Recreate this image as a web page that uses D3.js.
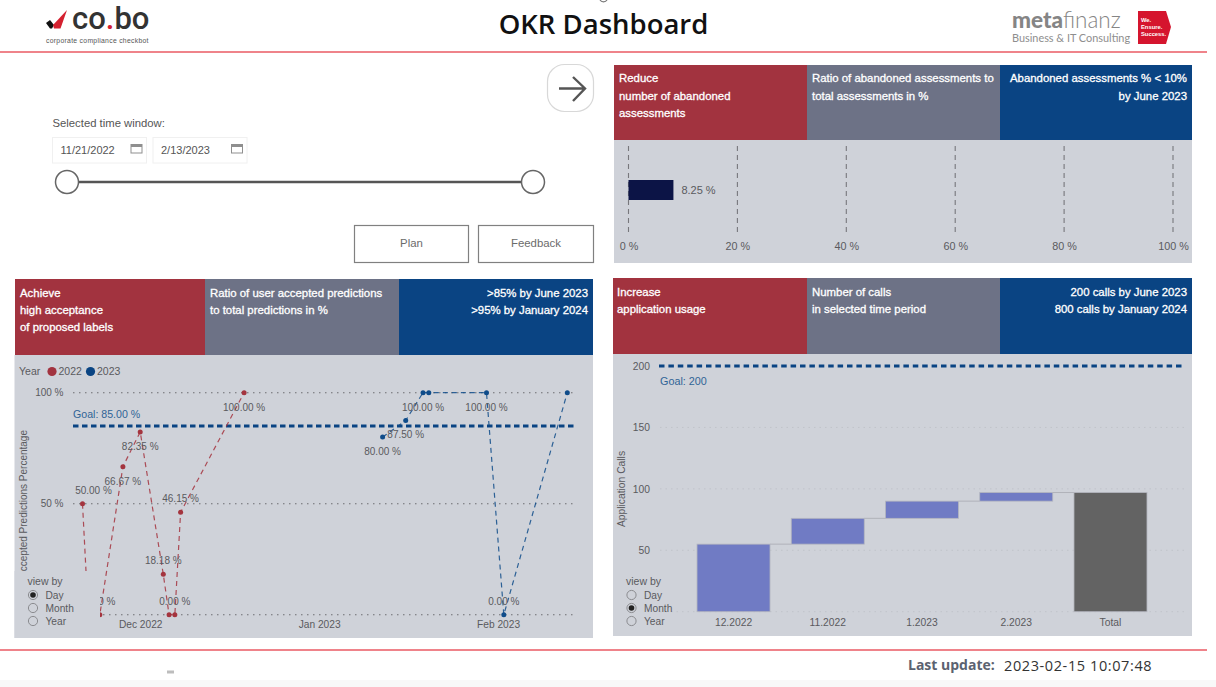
<!DOCTYPE html>
<html>
<head>
<meta charset="utf-8">
<title>OKR Dashboard</title>
<script src="https://cdn.jsdelivr.net/npm/d3@7/dist/d3.min.js"></script>
<style>
    html, body { margin: 0; padding: 0; background: #fff; overflow: hidden; }
    svg { display: block; font-family: "Liberation Sans", Arial, sans-serif; }
    .tick text { font-family: "Liberation Sans", Arial, sans-serif; }
</style>
</head>
<body>
<div id="chart"></div>
<script>

// Acceptance ratio per day, one array pair per legend year
var dates2022 = ['2022-11-21', '2022-11-22', '2022-11-24', '2022-11-28', '2022-12-01', '2022-12-05', '2022-12-06', '2022-12-07', '2022-12-08', '2022-12-19'];
var values2022 = [50, 0, 0, 66.67, 82.35, 18.18, 0, 0, 46.15, 100];
var dates2023 = ['2023-01-12', '2023-01-16', '2023-01-19', '2023-01-20', '2023-01-30', '2023-02-02', '2023-02-13'];
var values2023 = [80, 87.5, 100, 100, 100, 0, 100];

// Which points carry a value label, and on which side
var labelSide2022 = ['above', null, 'above', 'below', 'below', 'above', null, 'above', 'above', 'below'];
var labelSide2023 = ['below', 'below', 'below', null, 'below', 'above', null];

var acceptanceGoal = 85;
var acceptanceTicks = [0, 50, 100];
var monthTicks = ['2022-12-01', '2023-01-01', '2023-02-01'];

// Application calls per month
var callMonths = ['12.2022', '11.2022', '1.2023', '2.2023'];
var callValues = [55, 21, 14, 7];
var callsTotalLabel = 'Total';
var callsGoal = 200;
var callsTicks = [50, 100, 150, 200];

// Abandoned assessments
var abandonedValue = 8.25;
var abandonedTicks = [0, 20, 40, 60, 80, 100];

var viewOptions = ['Day', 'Month', 'Year'];

var RED = '#a2333f',
    GREY = '#6d7286',
    BLUE = '#0a4483',
    PANEL = '#cfd2d9',
    TEXT = '#5a5a5e',
    LINE_RED = '#ea5a63';

var parseDay = d3.utcParse( '%Y-%m-%d' );

var svg = d3.select( '#chart' ).append( 'svg' )
    .attr( 'width', 1216 )
    .attr( 'height', 687 );

function label( parent, x, y, str, size, color, anchor ) {
    return parent.append( 'text' )
        .attr( 'x', x )
        .attr( 'y', y )
        .attr( 'dy', '.35em' )
        .attr( 'text-anchor', anchor || 'start' )
        .style( 'font-size', size + 'px' )
        .style( 'fill', color )
        .text( str );
}

// Three coloured header cells above each panel
function kpiHeader( x, y, h, widths, left, middle, right, lineYs, leftX ) {
    var colors = [RED, GREY, BLUE], cx = x;
    widths.forEach( function ( w, i ) {
        svg.append( 'rect' ).attr( 'x', cx ).attr( 'y', y ).attr( 'width', w ).attr( 'height', h ).attr( 'fill', colors[i] );
        cx += w;
    });
    function block( lines, tx, anchor ) {
        lines.forEach( function ( s, i ) {
            label( svg, tx, lineYs[i], s, 11.4, '#fff', anchor )
                .style( 'stroke', '#fff' )
                .style( 'stroke-width', 0.3 );
        });
    }
    block( left, leftX, 'start' );
    block( middle, x + widths[0] + 5, 'start' );
    block( right, x + widths[0] + widths[1] + widths[2] - 5, 'end' );
}

function viewBy( x, selected ) {
    label( svg, x, 581, 'view by', 10.5, TEXT );
    viewOptions.forEach( function ( s, i ) {
        var y = 595 + i * 13;
        svg.append( 'circle' ).attr( 'cx', x + 5.5 ).attr( 'cy', y ).attr( 'r', 4.6 )
            .attr( 'fill', 'none' ).attr( 'stroke', '#8b8c90' ).attr( 'stroke-width', 1 );
        if ( i === selected ) {
            svg.append( 'circle' ).attr( 'cx', x + 5.5 ).attr( 'cy', y ).attr( 'r', 2.8 ).attr( 'fill', '#222' );
        }
        label( svg, x + 18, y, s, 10.2, TEXT );
    });
}

function styleAxis( g, size, color ) {
    g.select( '.domain' ).remove();
    g.selectAll( '.tick line' ).remove();
    g.selectAll( '.tick text' ).style( 'font-size', size + 'px' ).style( 'fill', color );
}

// ---------- page furniture ----------

svg.append( 'rect' ).attr( 'y', 680 ).attr( 'width', 1216 ).attr( 'height', 7 ).attr( 'fill', '#f8f8f8' );
[52, 650].forEach( function ( y ) {
    svg.append( 'line' ).attr( 'x1', 0 ).attr( 'x2', 1207 ).attr( 'y1', y ).attr( 'y2', y )
        .attr( 'stroke', LINE_RED ).attr( 'stroke-width', 1.6 );
});

label( svg, 603.5, 24, 'OKR Dashboard', 27.5, '#111', 'middle' )
    .style( 'font-family', '"Open Sans", sans-serif' ).style( 'font-weight', 600 );
// descender of a cropped line above the title
svg.append( 'path' ).attr( 'd', 'M600 0 A4 3.5 0 0 0 607 0' )
    .attr( 'fill', 'none' ).attr( 'stroke', '#777' ).attr( 'stroke-width', 1.2 );

// co.bo logo
svg.append( 'path' ).attr( 'd', 'M46 23 L50 20 L54 25 L52 28.5 L50 28.5 Z' ).attr( 'fill', '#111' );
svg.append( 'path' ).attr( 'd', 'M53 25 L67 10 L60.5 28.5 L54 28.5 Z' ).attr( 'fill', '#d4202f' );
var cobo = label( svg, 72, 0, '', 31, '#333' )
    .attr( 'y', 29 ).attr( 'dy', 0 )
    .style( 'font-family', 'Roboto, sans-serif' ).style( 'font-weight', 500 );
cobo.append( 'tspan' ).text( 'co' );
cobo.append( 'tspan' ).style( 'fill', '#d4202f' ).text( '.' );
cobo.append( 'tspan' ).text( 'bo' );
label( svg, 46, 40.3, 'corporate compliance checkbot', 6.8, '#555' ).style( 'letter-spacing', '0.3px' );

// metafinanz logo
var meta = label( svg, 1012, 0, '', 22.5, '#858585' )
    .attr( 'y', 27.5 ).attr( 'dy', 0 )
    .style( 'font-family', 'Lato, sans-serif' );
meta.append( 'tspan' ).style( 'font-weight', 900 ).text( 'meta' );
meta.append( 'tspan' ).style( 'font-weight', 300 ).text( 'finanz' );
label( svg, 1012, 0, 'Business & IT Consulting', 10.9, '#8e8e8e' )
    .attr( 'y', 42 ).attr( 'dy', 0 )
    .style( 'font-family', 'Lato, sans-serif' );
svg.append( 'path' ).attr( 'd', 'M1138 11 L1166 11 L1171 27 L1166 44 L1138 44 Z' ).attr( 'fill', '#d5152e' );
['We.', 'Ensure.', 'Success.'].forEach( function ( s, i ) {
    label( svg, 1141, 19.5 + i * 7.2, s, 5.8, '#fff' ).style( 'font-weight', 'bold' );
});

label( svg, 908, 665.5, 'Last update:', 14, '#5b6270' ).style( 'font-family', '"Open Sans", sans-serif' ).style( 'font-weight', 700 );
label( svg, 1004, 666, '2023-02-15 10:07:48', 14.5, '#333' ).style( 'font-family', '"Open Sans", sans-serif' ).style( 'letter-spacing', '0.6px' );
svg.append( 'rect' ).attr( 'x', 167 ).attr( 'y', 670.5 ).attr( 'width', 7 ).attr( 'height', 3 ).attr( 'fill', '#bdbdbd' );

// ---------- controls ----------

svg.append( 'rect' ).attr( 'x', 547.5 ).attr( 'y', 64.5 ).attr( 'width', 46 ).attr( 'height', 47 ).attr( 'rx', 17 )
    .attr( 'fill', '#fff' ).attr( 'stroke', '#d8d8d8' ).attr( 'stroke-width', 1.2 );
svg.append( 'path' ).attr( 'd', 'M559 88.5 L585 88.5 M573 77 L585 88.5 L573 101' )
    .attr( 'fill', 'none' ).attr( 'stroke', '#555' ).attr( 'stroke-width', 2.4 );

label( svg, 52.5, 123, 'Selected time window:', 11.3, '#555' );

[{ x: 52.5, w: 94, s: '11/21/2022' }, { x: 153, w: 94, s: '2/13/2023' }].forEach( function ( d ) {
    svg.append( 'rect' ).attr( 'x', d.x ).attr( 'y', 137.5 ).attr( 'width', d.w ).attr( 'height', 25.5 )
        .attr( 'fill', '#fff' ).attr( 'stroke', '#f0f0f0' );
    label( svg, d.x + 8, 150, d.s, 11, '#555' );
    var ix = d.x + d.w - 15.5;
    svg.append( 'rect' ).attr( 'x', ix ).attr( 'y', 144.5 ).attr( 'width', 11 ).attr( 'height', 8.5 )
        .attr( 'fill', '#fff' ).attr( 'stroke', '#8f8f8f' );
    svg.append( 'rect' ).attr( 'x', ix ).attr( 'y', 144.5 ).attr( 'width', 11 ).attr( 'height', 2.5 ).attr( 'fill', '#8f8f8f' );
});

svg.append( 'line' ).attr( 'x1', 67 ).attr( 'x2', 533 ).attr( 'y1', 182 ).attr( 'y2', 182 )
    .attr( 'stroke', '#555' ).attr( 'stroke-width', 2.6 );
[67, 533].forEach( function ( x ) {
    svg.append( 'circle' ).attr( 'cx', x ).attr( 'cy', 182 ).attr( 'r', 11.5 )
        .attr( 'fill', '#fff' ).attr( 'stroke', '#666' ).attr( 'stroke-width', 1.5 );
});

[{ x: 354.5, w: 114, s: 'Plan' }, { x: 478.5, w: 115, s: 'Feedback' }].forEach( function ( d ) {
    svg.append( 'rect' ).attr( 'x', d.x ).attr( 'y', 225.5 ).attr( 'width', d.w ).attr( 'height', 37 )
        .attr( 'fill', '#fff' ).attr( 'stroke', '#808080' ).attr( 'stroke-width', 1.2 );
    label( svg, d.x + d.w / 2, 243.5, d.s, 11.4, '#6b6b6b', 'middle' );
});

// ---------- abandoned assessments bullet ----------

kpiHeader( 614, 65, 75, [193, 193, 192],
    ['Reduce', 'number of abandoned', 'assessments'],
    ['Ratio of abandoned assessments to', 'total assessments in %'],
    ['Abandoned assessments % < 10%', 'by June 2023'],
    [78, 96, 113], 619 );

svg.append( 'rect' ).attr( 'x', 614 ).attr( 'y', 140 ).attr( 'width', 578 ).attr( 'height', 123 ).attr( 'fill', PANEL );

var xAbandoned = d3.scaleLinear().domain( [0, 100] ).range( [628.5, 1173] );

svg.append( 'g' ).selectAll( 'line' ).data( abandonedTicks ).join( 'line' )
    .attr( 'x1', xAbandoned ).attr( 'x2', xAbandoned )
    .attr( 'y1', 146 ).attr( 'y2', 235 )
    .attr( 'stroke', '#77777c' ).attr( 'stroke-width', 1.1 ).attr( 'stroke-dasharray', '5 4' );

svg.append( 'g' )
    .attr( 'transform', 'translate(0,239)' )
    .call( d3.axisBottom( xAbandoned ).tickValues( abandonedTicks ).tickFormat( function ( d ) { return d + ' %'; } ).tickSize( 0 ) )
    .call( styleAxis, 10.8, TEXT );

svg.append( 'rect' )
    .attr( 'x', xAbandoned( 0 ) ).attr( 'y', 180 )
    .attr( 'width', xAbandoned( abandonedValue ) - xAbandoned( 0 ) ).attr( 'height', 20 )
    .attr( 'fill', '#0c1446' );
label( svg, xAbandoned( abandonedValue ) + 8, 190.5, abandonedValue + ' %', 11, TEXT );

// ---------- acceptance line chart ----------

kpiHeader( 15, 279, 76, [190, 194, 194],
    ['Achieve', 'high acceptance', 'of proposed labels'],
    ['Ratio of user accepted predictions', 'to total predictions in %'],
    ['>85% by June 2023', '>95% by January 2024'],
    [293, 310, 327], 20 );

svg.append( 'rect' ).attr( 'x', 14.5 ).attr( 'y', 355 ).attr( 'width', 578.5 ).attr( 'height', 283 ).attr( 'fill', PANEL );

var xDay = d3.scaleUtc()
    .domain( [parseDay( dates2022[0] ), parseDay( dates2023[dates2023.length - 1] )] )
    .range( [82.5, 567.3] );
var yPct = d3.scaleLinear().domain( [0, 100] ).range( [614.7, 392.7] );

var line = d3.line()
    .x( function ( d ) { return xDay( d.date ); } )
    .y( function ( d ) { return yPct( d.value ); } );

function toPoints( dates, values, sides ) {
    return dates.map( function ( s, i ) {
        return { date: parseDay( s ), value: values[i], side: sides[i] };
    });
}

svg.append( 'g' ).selectAll( 'line' ).data( acceptanceTicks ).join( 'line' )
    .attr( 'x1', 73 ).attr( 'x2', 574 )
    .attr( 'y1', yPct ).attr( 'y2', yPct )
    .attr( 'stroke', '#6e6e72' ).attr( 'stroke-width', 1.1 ).attr( 'stroke-dasharray', '1.5 4.5' );

svg.append( 'g' )
    .attr( 'transform', 'translate(63.5,0)' )
    .call( d3.axisLeft( yPct ).tickValues( acceptanceTicks.slice( 1 ) ).tickFormat( function ( d ) { return d + ' %'; } ).tickSize( 0 ).tickPadding( 0 ) )
    .call( styleAxis, 10, TEXT );

svg.append( 'g' )
    .attr( 'transform', 'translate(0,618)' )
    .call( d3.axisBottom( xDay ).tickValues( monthTicks.map( parseDay ) ).tickFormat( d3.utcFormat( '%b %Y' ) ).tickSize( 0 ) )
    .call( styleAxis, 10.2, TEXT );

svg.append( 'line' )
    .attr( 'x1', 73 ).attr( 'x2', 577 )
    .attr( 'y1', yPct( acceptanceGoal ) ).attr( 'y2', yPct( acceptanceGoal ) )
    .attr( 'stroke', BLUE ).attr( 'stroke-width', 2.8 ).attr( 'stroke-dasharray', '5.5 3.5' );
label( svg, 73, 414, 'Goal: ' + acceptanceGoal.toFixed( 2 ) + ' %', 10.6, '#2f6496' );

label( svg, 19, 371.5, 'Year', 10.5, TEXT );
[{ x: 52, c: RED, s: '2022' }, { x: 90.5, c: BLUE, s: '2023' }].forEach( function ( d ) {
    svg.append( 'circle' ).attr( 'cx', d.x ).attr( 'cy', 371.5 ).attr( 'r', 4.6 ).attr( 'fill', d.c );
    label( svg, d.x + 6.5, 371.5, d.s, 10.5, TEXT );
});

[
    { points: toPoints( dates2022, values2022, labelSide2022 ), color: '#a4343e' },
    { points: toPoints( dates2023, values2023, labelSide2023 ), color: '#0f4c8a' }
].forEach( function ( series ) {

    svg.append( 'path' ).datum( series.points )
        .attr( 'd', line )
        .attr( 'fill', 'none' )
        .attr( 'stroke', series.color ).attr( 'stroke-opacity', 0.85 )
        .attr( 'stroke-width', 1.2 ).attr( 'stroke-dasharray', '5 4' );

    svg.append( 'g' ).selectAll( 'circle' ).data( series.points ).join( 'circle' )
        .attr( 'cx', function ( d ) { return xDay( d.date ); } )
        .attr( 'cy', function ( d ) { return yPct( d.value ); } )
        .attr( 'r', 2.5 )
        .attr( 'fill', series.color );

    svg.append( 'g' ).selectAll( 'text' )
        .data( series.points.filter( function ( d ) { return d.side; } ) )
        .join( 'text' )
        .attr( 'x', function ( d ) { return xDay( d.date ) + ( d.value === 50 ? 11 : 0 ); } )
        .attr( 'y', function ( d ) { return yPct( d.value ) + ( d.side === 'below' ? 14.5 : -13.5 ); } )
        .attr( 'dy', '.35em' )
        .attr( 'text-anchor', 'middle' )
        .style( 'font-size', '10px' )
        .style( 'fill', TEXT )
        .text( function ( d ) { return d.value.toFixed( 2 ) + ' %'; } );
});

label( svg, 0, 0, 'Accepted Predictions Percentage', 10, TEXT, 'end' )
    .attr( 'transform', 'translate(23,430) rotate(-90)' );

// The slicer sits on top of the plot and hides what is behind it
svg.append( 'rect' ).attr( 'x', 14.5 ).attr( 'y', 571 ).attr( 'width', 85.5 ).attr( 'height', 67 ).attr( 'fill', PANEL );
viewBy( 27.5, 0 );

// ---------- application calls waterfall ----------

kpiHeader( 613, 278, 76, [194, 193, 192],
    ['Increase', 'application usage'],
    ['Number of calls', 'in selected time period'],
    ['200 calls by June 2023', '800 calls by January 2024'],
    [292, 309], 617 );

svg.append( 'rect' ).attr( 'x', 613 ).attr( 'y', 354 ).attr( 'width', 579 ).attr( 'height', 282 ).attr( 'fill', PANEL );

var xCalls = d3.scaleBand()
    .domain( callMonths.concat( [callsTotalLabel] ) )
    .range( [649.9, 1194.1] )
    .paddingInner( 0.2255 )
    .paddingOuter( 0.5 );
var yCalls = d3.scaleLinear().domain( [0, 200] ).range( [611.7, 366] );

var running = 0;
var steps = callMonths.map( function ( m, i ) {
    var step = { key: m, from: running, to: running + callValues[i], total: false };
    running = step.to;
    return step;
});
steps.push( { key: callsTotalLabel, from: 0, to: running, total: true } );

svg.append( 'g' ).selectAll( 'line' ).data( [0].concat( callsTicks.slice( 0, 3 ) ) ).join( 'line' )
    .attr( 'x1', 660 ).attr( 'x2', 1187 )
    .attr( 'y1', yCalls ).attr( 'y2', yCalls )
    .attr( 'stroke', '#c0c3ca' ).attr( 'stroke-width', 1 ).attr( 'stroke-dasharray', '1.5 4' );

svg.append( 'g' )
    .attr( 'transform', 'translate(650,0)' )
    .call( d3.axisLeft( yCalls ).tickValues( callsTicks ).tickSize( 0 ).tickPadding( 0 ) )
    .call( styleAxis, 10.3, TEXT );

svg.append( 'g' )
    .attr( 'transform', 'translate(0,615.5)' )
    .call( d3.axisBottom( xCalls ).tickSize( 0 ) )
    .call( styleAxis, 10.3, TEXT );

svg.append( 'line' )
    .attr( 'x1', 659 ).attr( 'x2', 1184 )
    .attr( 'y1', yCalls( callsGoal ) ).attr( 'y2', yCalls( callsGoal ) )
    .attr( 'stroke', BLUE ).attr( 'stroke-width', 2.8 ).attr( 'stroke-dasharray', '5.5 3.9' );
label( svg, 660, 381, 'Goal: ' + callsGoal, 10.8, '#2f6496' );

svg.append( 'g' ).selectAll( 'line' ).data( steps.slice( 0, -1 ) ).join( 'line' )
    .attr( 'x1', function ( d ) { return xCalls( d.key ) + xCalls.bandwidth(); } )
    .attr( 'x2', function ( d, i ) { return xCalls( steps[i + 1].key ); } )
    .attr( 'y1', function ( d ) { return yCalls( d.to ); } )
    .attr( 'y2', function ( d ) { return yCalls( d.to ); } )
    .attr( 'stroke', '#b0b2b9' ).attr( 'stroke-width', 1 );

svg.append( 'g' ).selectAll( 'rect' ).data( steps ).join( 'rect' )
    .attr( 'x', function ( d ) { return xCalls( d.key ); } )
    .attr( 'y', function ( d ) { return yCalls( d.to ); } )
    .attr( 'width', xCalls.bandwidth() )
    .attr( 'height', function ( d ) { return yCalls( d.from ) - yCalls( d.to ); } )
    .attr( 'fill', function ( d ) { return d.total ? '#636363' : '#707bc4'; } )
    .attr( 'stroke', '#b4b6bf' ).attr( 'stroke-width', 0.8 );

label( svg, 0, 0, 'Application Calls', 10.3, TEXT, 'middle' )
    .attr( 'transform', 'translate(621,489) rotate(-90)' );

viewBy( 626, 1 );

</script>
</body>
</html>
